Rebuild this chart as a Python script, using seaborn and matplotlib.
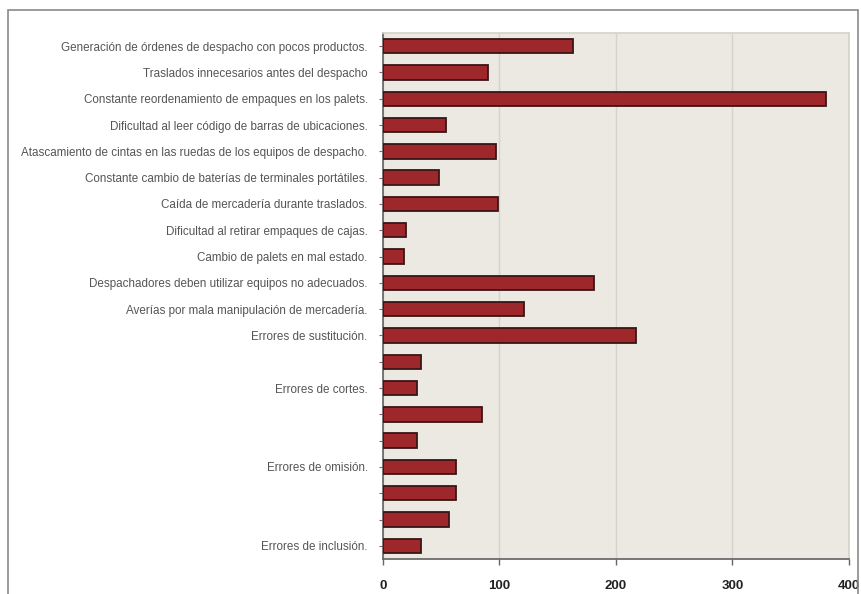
import matplotlib
matplotlib.use("Agg")
import matplotlib.pyplot as plt
import seaborn as sns
import pandas as pd
from matplotlib.patches import Rectangle

labels = [
    "Generación de órdenes de despacho con pocos productos.",
    "Traslados innecesarios antes del despacho",
    "Constante reordenamiento de empaques en los palets.",
    "Dificultad al leer código de barras de ubicaciones.",
    "Atascamiento de cintas en las ruedas de los equipos de despacho.",
    "Constante cambio de baterías de terminales portátiles.",
    "Caída de mercadería durante traslados.",
    "Dificultad al retirar empaques de cajas.",
    "Cambio de palets en mal estado.",
    "Despachadores deben utilizar equipos no adecuados.",
    "Averías por mala manipulación de mercadería.",
    "Errores de sustitución.",
    "",
    "Errores de cortes.",
    "",
    "",
    "Errores de omisión.",
    "",
    "",
    "Errores de inclusión.",
]
values = [163, 90, 380, 54, 97, 48, 99, 20, 18, 181, 121, 217, 33, 29, 85, 29, 63, 63, 57, 33]
categories = [f"c{i}" for i in range(len(values))]
xticks = [0, 100, 200, 300, 400]

df = pd.DataFrame({"cat": categories, "val": values})

sns.set_theme(style="white")
plt.rcParams["font.family"] = ["Liberation Sans", "DejaVu Sans"]

fig = plt.figure(figsize=(8.62, 5.94), dpi=100)
ax = fig.add_axes([383 / 862, 1 - 559 / 594, (849 - 383) / 862, (559 - 33) / 594])
ax.set_facecolor("#ECE9E2")

sns.barplot(data=df, y="cat", x="val", orient="h", order=categories, color="#9E272C",
            saturation=1, width=0.55, edgecolor="#3A1616", linewidth=1.3, ax=ax, zorder=3)

ax.set_xlim(0, 400)
ax.set_ylim(len(values) - 0.5, -0.5)
ax.set_xticks(xticks)
ax.set_xticklabels([str(t) for t in xticks], fontsize=9.5, fontweight="bold", color="#222222")
ax.set_yticks(range(len(values)))
ax.set_yticklabels(labels, fontsize=8.4, color="#555555")
ax.set_xlabel("")
ax.set_ylabel("")

ax.xaxis.grid(True, color="#D6D3CC", linewidth=1, zorder=0)
ax.yaxis.grid(False)
ax.set_axisbelow(True)

for s in ["top", "right"]:
    ax.spines[s].set_visible(True)
    ax.spines[s].set_color("#D6D3CC")
ax.spines["left"].set_color("#666666")
ax.spines["bottom"].set_color("#666666")
ax.tick_params(axis="x", direction="out", length=4, width=1, color="#666666", pad=11, bottom=True)
ax.tick_params(axis="y", direction="out", length=3, width=0.8, color="#B05050", pad=8, left=True)

fig.patches.append(Rectangle((8 / 862, -0.1), (858 - 8) / 862, 1.1 - 10 / 594,
                             transform=fig.transFigure, fill=False, edgecolor="#8A8A8A",
                             linewidth=1.2))

fig.savefig("out.png", dpi=100)
